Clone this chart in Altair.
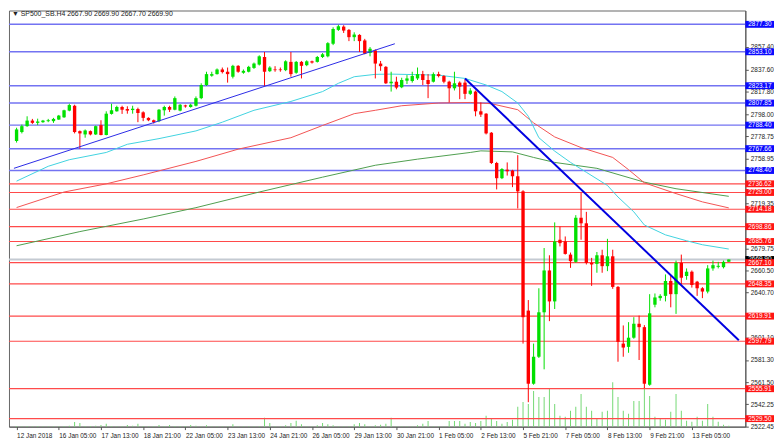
import json
import altair as alt
import pandas as pd

# ---------------- data ----------------
opens = [2774.4, 2782.3, 2787.5, 2792.4, 2790.4, 2791.0, 2791.9, 2791.9, 2793.3, 2795.3,
 2801.2, 2805.5, 2783.1, 2780.2, 2783.1, 2780.2, 2788.4, 2779.7, 2798.3, 2800.6,
 2804.4, 2802.6, 2801.7, 2802.6, 2799.7, 2794.8, 2792.7, 2791.9, 2801.5, 2804.4,
 2802.0, 2801.2, 2805.8, 2804.4, 2805.5, 2812.2, 2823.8, 2832.0, 2833.4, 2837.5,
 2835.5, 2831.1, 2840.7, 2834.6, 2835.5, 2838.9, 2841.8, 2848.5, 2836.0, 2837.5,
 2837.5, 2836.9, 2844.2, 2834.6, 2844.2, 2841.3, 2844.7, 2844.2, 2848.5, 2849.1,
 2860.2, 2872.4, 2875.3, 2872.4, 2866.0, 2868.0, 2863.1, 2852.0, 2854.3, 2842.7,
 2839.8, 2825.3, 2826.7, 2821.8, 2827.6, 2827.3, 2829.6, 2833.4, 2828.2, 2826.7,
 2833.4, 2831.7, 2826.7, 2820.9, 2825.9, 2825.9, 2816.0, 2818.0, 2800.6, 2798.5,
 2781.7, 2755.0, 2741.6, 2749.1, 2748.3, 2743.3, 2730.0, 2624.8, 2560.3, 2584.1,
 2623.3, 2660.2, 2632.9, 2687.3, 2685.8, 2674.2, 2667.8, 2706.7, 2701.8, 2666.9,
 2666.0, 2673.6, 2664.0, 2672.7, 2645.7, 2595.7, 2592.8, 2600.9, 2613.2, 2610.2,
 2559.4, 2630.0, 2635.8, 2637.8, 2650.9, 2639.3, 2666.9, 2655.3, 2659.1, 2650.3,
 2644.5, 2641.6, 2662.0, 2663.4, 2663.1, 2667.9]
highs = [2786.1, 2788.9, 2796.2, 2793.9, 2794.1, 2793.0, 2793.9, 2794.8, 2797.4, 2802.0,
 2807.3, 2806.4, 2783.7, 2784.6, 2783.7, 2788.0, 2792.7, 2800.6, 2807.3, 2805.5,
 2805.5, 2805.0, 2805.5, 2803.8, 2800.6, 2795.3, 2793.3, 2802.6, 2805.5, 2805.5,
 2813.7, 2807.0, 2806.4, 2807.3, 2813.7, 2825.3, 2835.5, 2835.5, 2838.4, 2839.2,
 2839.2, 2841.6, 2841.3, 2837.5, 2840.7, 2843.6, 2850.0, 2852.9, 2840.4, 2840.4,
 2839.2, 2845.6, 2852.9, 2845.0, 2845.0, 2845.6, 2845.3, 2849.4, 2852.0, 2861.6,
 2874.7, 2877.0, 2876.5, 2873.2, 2870.3, 2868.6, 2864.5, 2857.3, 2855.2, 2845.0,
 2840.5, 2835.5, 2831.1, 2830.2, 2832.5, 2835.5, 2839.2, 2836.3, 2833.4, 2834.9,
 2835.5, 2832.5, 2827.6, 2835.5, 2827.0, 2828.8, 2821.0, 2818.9, 2808.4, 2799.0,
 2782.3, 2756.0, 2750.5, 2755.5, 2749.0, 2761.9, 2731.0, 2634.1, 2595.7, 2644.5,
 2680.0, 2673.6, 2702.6, 2698.9, 2690.2, 2676.0, 2709.0, 2728.8, 2711.9, 2671.3,
 2676.5, 2678.5, 2688.1, 2678.5, 2646.5, 2611.7, 2614.6, 2619.0, 2620.4, 2612.0,
 2639.3, 2639.9, 2639.3, 2656.7, 2655.3, 2668.9, 2674.2, 2662.0, 2660.2, 2651.0,
 2645.5, 2664.9, 2668.9, 2667.8, 2668.9, 2669.9]
lows = [2773.0, 2781.1, 2786.9, 2789.5, 2788.4, 2790.4, 2791.0, 2790.4, 2793.0, 2794.8,
 2800.6, 2781.1, 2767.7, 2777.3, 2779.4, 2779.7, 2779.4, 2779.4, 2797.7, 2800.3,
 2798.3, 2798.5, 2798.5, 2791.0, 2791.9, 2791.9, 2789.8, 2791.0, 2796.8, 2800.0,
 2801.5, 2800.6, 2803.8, 2803.8, 2804.9, 2811.3, 2822.9, 2831.1, 2833.0, 2834.0,
 2825.9, 2829.6, 2834.6, 2833.7, 2834.9, 2838.0, 2841.0, 2823.0, 2835.2, 2835.5,
 2835.5, 2836.0, 2831.1, 2833.7, 2829.6, 2840.4, 2842.7, 2843.6, 2847.6, 2848.2,
 2859.0, 2871.5, 2869.7, 2862.5, 2862.5, 2852.9, 2850.9, 2849.1, 2829.6, 2836.3,
 2824.7, 2818.0, 2820.0, 2821.0, 2824.7, 2825.9, 2828.2, 2823.8, 2812.2, 2826.0,
 2830.5, 2825.3, 2808.4, 2819.0, 2811.3, 2811.3, 2815.0, 2796.2, 2795.6, 2780.2,
 2754.1, 2731.7, 2740.8, 2743.9, 2733.7, 2714.9, 2595.7, 2544.0, 2559.4, 2583.0,
 2573.0, 2615.5, 2626.2, 2681.4, 2674.2, 2662.5, 2667.0, 2687.3, 2665.5, 2646.6,
 2658.2, 2658.2, 2659.6, 2644.0, 2579.7, 2584.1, 2587.6, 2600.0, 2581.2, 2556.5,
 2558.5, 2627.7, 2633.5, 2632.9, 2627.7, 2621.9, 2648.0, 2652.0, 2645.1, 2637.8,
 2635.8, 2640.0, 2660.0, 2662.0, 2662.0, 2667.7]
closes = [2784.6, 2787.5, 2792.4, 2790.4, 2791.6, 2792.4, 2792.7, 2793.9, 2796.8, 2801.5,
 2806.1, 2782.3, 2781.1, 2783.7, 2780.2, 2787.5, 2779.7, 2798.5, 2801.5, 2804.4,
 2802.0, 2801.2, 2802.9, 2799.1, 2794.8, 2792.7, 2791.0, 2802.0, 2804.4, 2802.0,
 2812.2, 2806.4, 2804.9, 2806.4, 2812.2, 2823.8, 2833.4, 2833.4, 2837.5, 2835.2,
 2833.4, 2840.7, 2835.5, 2836.3, 2839.8, 2842.7, 2849.1, 2835.5, 2839.2, 2836.9,
 2836.9, 2844.7, 2833.4, 2844.2, 2840.7, 2844.7, 2843.6, 2848.5, 2850.9, 2860.7,
 2873.2, 2875.6, 2871.8, 2866.0, 2868.3, 2862.5, 2851.4, 2855.8, 2842.7, 2840.4,
 2825.3, 2826.7, 2821.5, 2828.2, 2829.6, 2831.7, 2833.4, 2828.2, 2824.7, 2833.4,
 2831.7, 2826.7, 2820.9, 2825.3, 2822.4, 2816.0, 2818.9, 2800.6, 2797.7, 2781.1,
 2755.0, 2741.6, 2749.7, 2747.7, 2743.3, 2730.0, 2619.0, 2560.3, 2584.1, 2623.3,
 2660.2, 2632.9, 2685.8, 2684.3, 2674.8, 2668.4, 2706.7, 2701.8, 2666.9, 2665.5,
 2673.6, 2664.0, 2672.7, 2645.7, 2597.2, 2592.2, 2600.9, 2613.2, 2610.2, 2560.3,
 2622.4, 2636.4, 2637.8, 2650.9, 2639.3, 2666.9, 2653.8, 2659.1, 2647.4, 2644.5,
 2641.6, 2662.0, 2664.9, 2664.3, 2667.8, 2669.9]
volumes = [150, 100, 150, 100, 150, 100, 100, 100, 100, 150,
 250, 1200, 900, 150, 150, 250, 400, 750, 150, 100,
 150, 400, 250, 750, 150, 100, 150, 400, 150, 400,
 150, 150, 150, 400, 250, 125, 325, 100, 100, 100,
 125, 575, 125, 100, 100, 100, 125, 2250, 925, 125,
 100, 325, 925, 1500, 575, 125, 100, 325, 925, 575,
 325, 125, 100, 100, 575, 925, 575, 100, 325, 500,
 750, 2250, 125, 125, 125, 125, 325, 750, 1425, 125,
 125, 125, 1425, 1425, 1425, 750, 1175, 925, 1425, 2750,
 2000, 1425, 750, 1175, 1750, 5000, 6250, 5750, 9000, 7500,
 7500, 9500, 5750, 2750, 2500, 4000, 5000, 8250, 5000, 4000,
 2000, 3750, 4000, 11250, 7500, 4000, 3250, 6500, 6500, 10000,
 7750, 2500, 2000, 1750, 3750, 8250, 4000, 1500, 1250, 2500,
 1500, 5750, 2500, 1250, 500, 250]

cyan_bars = [0, 6, 10, 17, 21, 27, 34, 39, 45, 52, 58, 61, 64, 68, 71, 80, 85, 89, 92, 95,
             97, 99, 102, 105, 108, 112, 114, 117, 119, 123, 127, 130, 135]
cyan_vals = [2739.0, 2752.1, 2757.9, 2764.3, 2771.5, 2776.5, 2783.3, 2791.0, 2801.5, 2809.3,
             2818.0, 2825.3, 2831.1, 2833.2, 2833.4, 2832.5, 2829.6, 2823.8, 2818.0, 2807.9,
             2796.2, 2777.3, 2765.5, 2755.5, 2746.8, 2735.2, 2725.0, 2711.9, 2700.3, 2691.6,
             2686.4, 2682.9, 2679.1]
red_bars = [0, 9, 17, 24, 34, 42, 52, 58, 64, 68, 73, 80, 86, 90, 95, 98, 102, 107, 113,
            116, 119, 125, 130, 135]
red_vals = [2715.7, 2729.4, 2736.6, 2744.5, 2756.4, 2767.2, 2777.3, 2788.1, 2798.5, 2801.5,
            2805.5, 2807.9, 2808.4, 2807.3, 2802.0, 2790.4, 2778.0, 2768.6, 2759.9, 2749.1,
            2737.5, 2728.0, 2720.7, 2715.4]
green_bars = [0, 12, 24, 34, 46, 58, 68, 76, 86, 88, 94, 98, 102, 110, 119, 125, 135]
green_vals = [2682.0, 2694.5, 2705.6, 2715.6, 2729.4, 2742.5, 2753.0, 2758.4, 2764.3, 2765.7,
              2764.8, 2759.9, 2755.5, 2750.3, 2738.1, 2732.3, 2725.6]

trend_up_bars = [-0.5, 71.7]
trend_up_vals = [2750.3, 2860.2]
trend_dn_bars = [85, 136.9]
trend_dn_vals = [2829.6, 2598.6]

blue_levels = [2877.30, 2853.10, 2823.17, 2807.85, 2788.40, 2767.66, 2748.40]
red_levels = [2736.62, 2729.00, 2714.18, 2698.86, 2685.76, 2667.10, 2648.35,
              2619.91, 2597.79, 2555.91, 2529.50]
bid_price = 2669.90

price_ticks = [2857.40, 2837.60, 2817.80, 2798.00, 2778.75, 2758.95,
               2719.35, 2679.75, 2660.50, 2640.70, 2601.10, 2581.30,
               2561.50, 2542.25, 2522.45]
tick_bars = [0, 8, 16, 24, 32, 40, 48, 56, 64, 72, 80, 88, 96, 104, 112, 120, 128]
tick_labels = ["12 Jan 2018", "16 Jan 05:00", "17 Jan 13:00", "18 Jan 21:00", "22 Jan 05:00",
               "23 Jan 13:00", "24 Jan 21:00", "26 Jan 05:00", "29 Jan 13:00", "30 Jan 21:00",
               "1 Feb 05:00", "2 Feb 13:00", "5 Feb 21:00", "7 Feb 05:00", "8 Feb 13:00",
               "9 Feb 21:00", "13 Feb 05:00"]
symbol_name = "SP500_SB.H4"
header_ohlc = ["2667.90", "2669.90", "2667.70", "2669.90"]

# ---------------- chart ----------------
W, H = 745, 421
FONT = "Liberation Sans, Arial, sans-serif"
FS = 6.5

xs = alt.Scale(domain=[-0.5, 137.2], nice=False, zero=False)
ys = alt.Scale(domain=[2522.45, 2889.5], nice=False, zero=False)

xaxis = alt.Axis(title=None, values=tick_bars, orient="bottom",
                 labelExpr=json.dumps(tick_labels) + "[round(datum.value / 8)]",
                 labelAlign="left", labelBaseline="top", labelPadding=3, tickSize=3,
                 labelFont=FONT, labelFontSize=FS, labelColor="#222", domainColor="#555",
                 tickColor="#555", labelOverlap=False, labelFlush=False, grid=False)
yaxis = alt.Axis(title=None, orient="right", values=price_ticks, format=".2f", tickSize=3,
                 labelPadding=2, labelFont=FONT, labelFontSize=FS, labelColor="#222",
                 domainColor="#555", tickColor="#555", labelOverlap=False, grid=False)


def X(field="bar"):
    return alt.X(f"{field}:Q", scale=xs, axis=xaxis)


def Y(field):
    return alt.Y(f"{field}:Q", scale=ys, axis=yaxis)


candles = pd.DataFrame(dict(bar=list(range(len(opens))), open=opens, high=highs,
                            low=lows, close=closes, vol=volumes))
up = candles[candles["close"] >= candles["open"]]
dn = candles[candles["close"] < candles["open"]]

UP_C, DN_C = "#00e000", "#ff0000"

vol_layer = alt.Chart(candles).mark_bar(size=1, color="#74d874").encode(
    x=X(), y=alt.Y("vol:Q", scale=alt.Scale(domain=[0, 105250], nice=False, zero=True), axis=None))

lv_blue = pd.DataFrame({"price": blue_levels})
lv_red = pd.DataFrame({"price": red_levels})
lv_bid = pd.DataFrame({"price": [bid_price]})

bid_line = alt.Chart(lv_bid).mark_rule(color="#c4cad2", strokeWidth=2).encode(y=Y("price"))
blue_lines = alt.Chart(lv_blue).mark_rule(color="#7373f2", strokeWidth=1.5).encode(y=Y("price"))
red_lines = alt.Chart(lv_red).mark_rule(color="#ff4a4a", strokeWidth=1.2).encode(y=Y("price"))


def ma_chart(bars, vals, color):
    d = pd.DataFrame({"bar": bars, "val": vals})
    return alt.Chart(d).mark_line(color=color, strokeWidth=1).encode(x=X(), y=Y("val"))


ma_green = ma_chart(green_bars, green_vals, "#4e9e4e")
ma_red = ma_chart(red_bars, red_vals, "#f25353")
ma_cyan = ma_chart(cyan_bars, cyan_vals, "#40d2e0")

wick_up = alt.Chart(up).mark_rule(color=UP_C, strokeWidth=1).encode(x=X(), y=Y("low"), y2="high")
wick_dn = alt.Chart(dn).mark_rule(color=DN_C, strokeWidth=1).encode(x=X(), y=Y("low"), y2="high")
body_up = alt.Chart(up).mark_bar(color=UP_C, size=3.4).encode(x=X(), y=Y("open"), y2="close")
body_dn = alt.Chart(dn).mark_bar(color=DN_C, size=3.4).encode(x=X(), y=Y("open"), y2="close")

tr_up = alt.Chart(pd.DataFrame({"bar": trend_up_bars, "val": trend_up_vals})).mark_line(
    color="#2a2ae6", strokeWidth=1).encode(x=X(), y=Y("val"))
tr_dn = alt.Chart(pd.DataFrame({"bar": trend_dn_bars, "val": trend_dn_vals})).mark_line(
    color="#0000e0", strokeWidth=2).encode(x=X(), y=Y("val"))

BOX = "M-1,-0.24L1,-0.24L1,0.24L-1,0.24Z"


def boxes(df, fill):
    d = df.copy()
    d["label"] = [f"{p:.2f}" for p in d["price"]]
    b = alt.Chart(d).mark_point(shape=BOX, filled=True, size=841, opacity=1,
                                color=fill, strokeWidth=0).encode(
        x=alt.value(W + 14.5), y=Y("price"))
    t = alt.Chart(d).mark_text(align="left", baseline="middle", font=FONT, fontSize=FS,
                               color="white").encode(x=alt.value(W + 3), y=Y("price"),
                                                     text="label:N")
    return b + t


bid_box = boxes(lv_bid, "#000000")
blue_box = boxes(lv_blue, "#0a0aff")
red_box = boxes(lv_red, "#ff1414")

header = alt.Chart(pd.DataFrame({"t": ["\u25BC " + symbol_name + "  " + " ".join(header_ohlc)]})).mark_text(
    align="left", baseline="middle", font=FONT, fontSize=7, color="#222").encode(
    x=alt.value(3), y=alt.value(4), text="t:N")

price_layer = alt.layer(bid_line, blue_lines, red_lines, ma_green, ma_red, ma_cyan,
                        wick_up, wick_dn, body_up, body_dn, tr_up, tr_dn,
                        bid_box, blue_box, red_box, header)

chart = alt.layer(vol_layer, price_layer).resolve_scale(y="independent").properties(
    width=W, height=H, padding=0, background="white"
).configure_view(stroke="#666", strokeWidth=1)

chart.save("out.html", embed_options={"renderer": "svg", "actions": False})
